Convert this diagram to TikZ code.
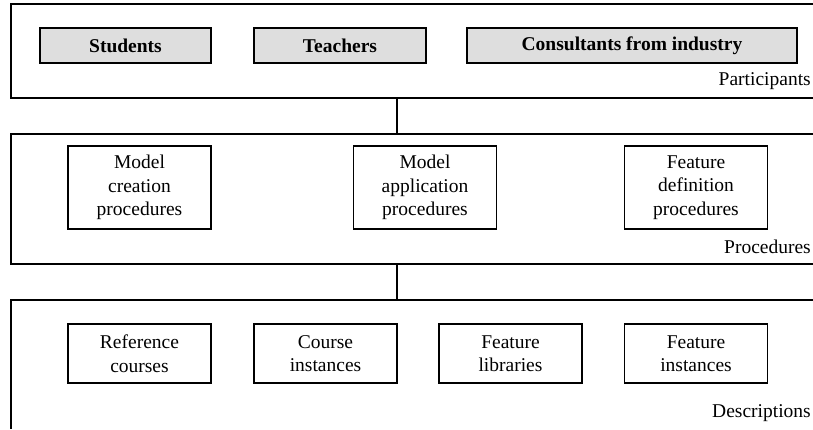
\documentclass[tikz,border=0pt]{standalone}
\usepackage{fontspec}
\setmainfont{Liberation Serif}
\newfontfamily\timesfam{Liberation Serif}
\begin{document}
\begin{tikzpicture}[x=1pt,y=-1pt,
  every node/.style={font=\timesfam\fontsize{19.5}{23.5}\selectfont},
  panel/.style={draw=none,rectangle,inner sep=0pt},
  outline/.style={line width=1.6pt,line join=miter},
  actor/.style={draw,line width=1.6pt,fill=black!13,rectangle,inner sep=0pt,minimum height=35pt,font=\timesfam\fontsize{19.5}{23.5}\selectfont\bfseries},
  item/.style={draw,line width=1.6pt,rectangle,inner sep=0pt,align=center,minimum width=143pt},
  layerlabel/.style={anchor=east,inner sep=0pt}]
\useasboundingbox (0,0) rectangle (813,429);
% panels
\node[panel,minimum width=802pt,minimum height=94pt] (part) at (412,51) {};
\node[panel,minimum width=802pt,minimum height=130pt] (proc) at (412,199) {};
\node[panel,minimum width=802pt,minimum height=129pt] (desc) at (412,364.5) {};
\draw[outline] (part.north east) -| (part.south west) -- (part.south east);
\draw[outline] (proc.north east) -| (proc.south west) -- (proc.south east);
\draw[outline] (desc.north east) -| (desc.south west);
\coordinate (ctr) at (397,0);
\draw[outline] (part.south -| ctr) -- (proc.north -| ctr);
\draw[outline] (proc.south -| ctr) -- (desc.north -| ctr);
% participants
\node[actor,minimum width=171pt] (stud) at (125.5,45.5) {Students};
\node[actor,minimum width=172pt] (teach) at (340,45.5) {Teachers};
\node[actor,minimum width=330pt] (cons) at (632,45.5) {Consultants from industry};
\node[layerlabel] (lpart) at (811,81) {Participants};
% procedures
\node[item,minimum height=83pt] (mcp) at (139.5,187.5) {Model\\creation\\procedures};
\node[item,minimum height=83pt] (map) at (425,187.5) {Model\\application\\procedures};
\node[item,minimum height=83pt] (fdp) at (696,187.5) {Feature\\definition\\procedures};
\node[layerlabel] (lproc) at (811,247) {Procedures};
% descriptions
\node[item,minimum height=59pt] (refc) at (139.5,353.5) {Reference\\courses};
\node[item,minimum height=59pt] (coui) at (325.5,353.5) {Course\\instances};
\node[item,minimum height=59pt] (flib) at (510.5,353.5) {Feature\\libraries};
\node[item,minimum height=59pt] (fins) at (696,353.5) {Feature\\instances};
\node[layerlabel] (ldesc) at (811,413) {Descriptions};
\end{tikzpicture}
\end{document}
